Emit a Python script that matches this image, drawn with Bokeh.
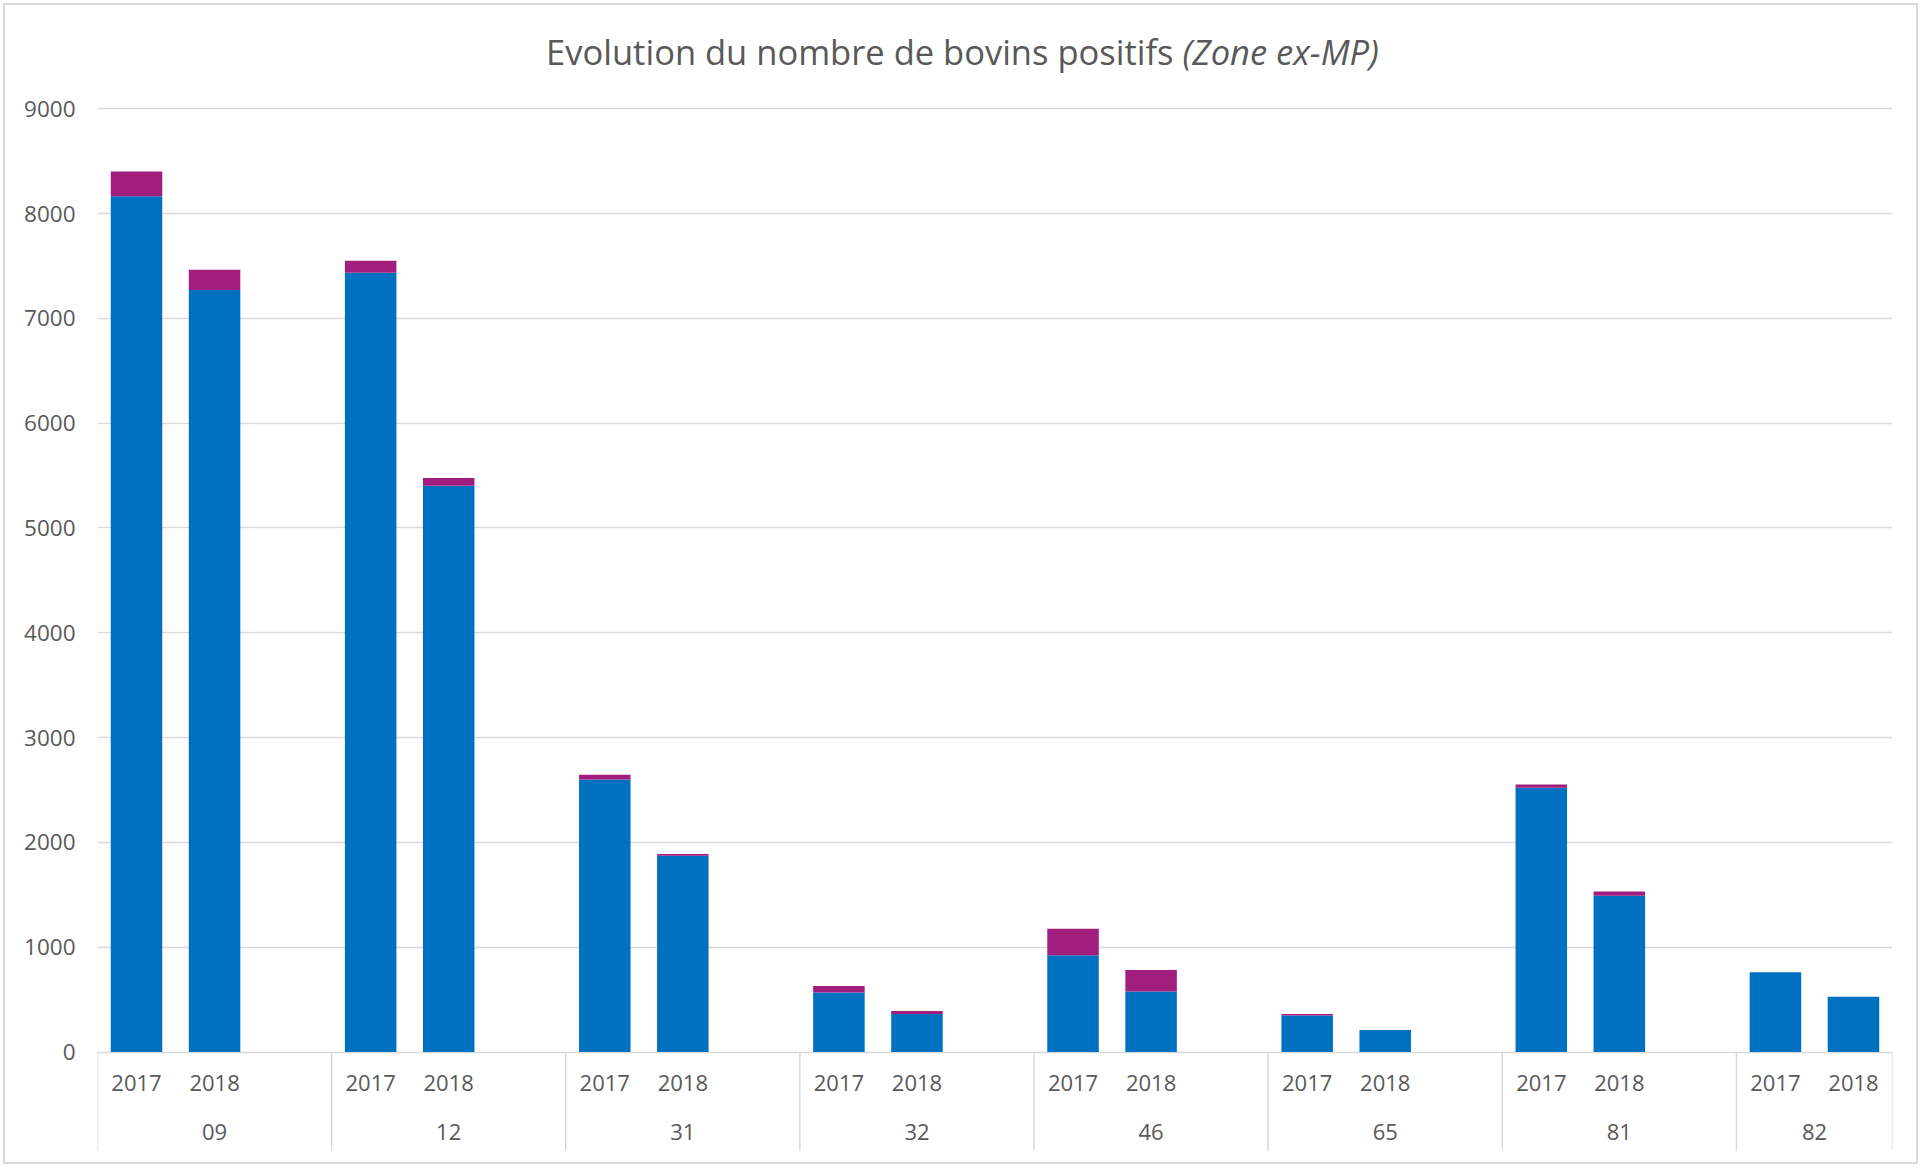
from bokeh.plotting import figure
from bokeh.models import FactorRange, Range1d, FixedTicker, ColumnDataSource
from bokeh.core.properties import value
from bokeh.embed import file_html
from bokeh.resources import INLINE

# ---------------- data ----------------
departements = ["09", "12", "31", "32", "46", "65", "81", "82"]
annees = ["2017", "2018"]
# series 1 (blue) values per departement: [2017, 2018]
serie_1 = {
    "09": [8165, 7270],
    "12": [7435, 5403],
    "31": [2601, 1873],
    "32": [567, 362],
    "46": [922, 578],
    "65": [349, 210],
    "81": [2522, 1491],
    "82": [760, 528],
}
# series 2 (magenta) values per departement: [2017, 2018]
serie_2 = {
    "09": [237, 194],
    "12": [115, 74],
    "31": [45, 16],
    "32": [63, 29],
    "46": [254, 204],
    "65": [13, 0],
    "81": [31, 41],
    "82": [0, 0],
}
y_ticks = [0, 1000, 2000, 3000, 4000, 5000, 6000, 7000, 8000, 9000]
titre = "Evolution du nombre de bovins positifs"
titre_italique = "(Zone ex-MP)"

# ---------------- layout constants ----------------
OFF = 5                      # css margin of the figure (page px)
W, H = 1911, 1157
LEFT, RIGHT = 92, 24
Y0_PAGE = 1051.5            # page y of value 0
PX_PER_UNIT = (1051.5 - 108.2) / 9000.0
TEXT_COLOR = "#595959"
GRID_COLOR = "#d9d9d9"
FONT = "Open Sans"


def y_from_page(py):
    return (Y0_PAGE - py) / PX_PER_UNIT


# factors: each departement gets 2017, 2018 and a blank slot (except last)
factors = []
for i, d in enumerate(departements):
    for a in annees:
        factors.append((d, a))
    if i < len(departements) - 1:
        factors.append((d, " "))

x_range = FactorRange(*factors, factor_padding=0, group_padding=0,
                      subgroup_padding=0, range_padding=0)
n_factors = len(factors)
cat_px = (W - LEFT - RIGHT) / n_factors


def x_from_page(px):
    return (px - OFF - LEFT) / cat_px


y_range = Range1d(start=y_from_page(OFF + H), end=y_from_page(OFF))

p = figure(width=W, height=H, x_range=x_range, y_range=y_range,
           output_backend="svg", toolbar_location=None,
           x_axis_location=None,
           min_border_left=LEFT, min_border_right=RIGHT,
           min_border_top=0, min_border_bottom=0)
p.outline_line_color = None
p.background_fill_color = "white"
p.border_fill_color = "white"
p.styles = {"margin": f"{OFF}px 0 0 {OFF}px",
            "outline": "2px solid #d9d9d9", "outline-offset": "0px"}

# ---------------- bars ----------------
bar_x = [(d, a) for d in departements for a in annees]
s1 = [serie_1[d][j] for d in departements for j in range(len(annees))]
s2 = [serie_2[d][j] for d in departements for j in range(len(annees))]
src = ColumnDataSource(dict(x=bar_x, serie_1=s1, serie_2=s2))
p.vbar_stack(["serie_1", "serie_2"], x="x", width=0.66, source=src,
             color=["#0070C0", "#A21E7E"], line_color=None)

# ---------------- y axis / grid ----------------
ticker = FixedTicker(ticks=y_ticks)
p.yaxis.ticker = ticker
p.yaxis.axis_line_color = None
p.yaxis.major_tick_line_color = None
p.yaxis.minor_tick_line_color = None
p.yaxis.major_label_standoff = 16
p.yaxis.major_label_text_font = FONT
p.yaxis.major_label_text_font_size = "22.5px"
p.yaxis.major_label_text_color = TEXT_COLOR
p.ygrid.ticker = ticker
p.ygrid.grid_line_color = GRID_COLOR
p.ygrid.grid_line_width = 1.5
p.xgrid.grid_line_color = None

# ---------------- category axis (drawn) ----------------
bounds = [0]
for k in range(1, n_factors):
    if factors[k][0] != factors[k - 1][0]:
        bounds.append(k)
bounds.append(n_factors)
p.segment(x0=bounds, x1=bounds, y0=[0] * len(bounds),
          y1=[y_from_page(1150)] * len(bounds),
          line_color=GRID_COLOR, line_width=1.5)

year_src = ColumnDataSource(dict(x=bar_x, t=[a for d in departements for a in annees]))
p.text(x="x", y=y_from_page(1082.5), text="t", source=year_src,
       text_font=value(FONT), text_font_size=value("22px"),
       text_color=TEXT_COLOR, text_align="center", text_baseline="middle")

grp_src = ColumnDataSource(dict(x=departements, t=departements))
p.text(x="x", y=y_from_page(1131.5), text="t", source=grp_src,
       text_font=value(FONT), text_font_size=value("22px"),
       text_color=TEXT_COLOR, text_align="center", text_baseline="middle")

# ---------------- title ----------------
p.text(x=[x_from_page(1173)], y=[y_from_page(51)], text=[titre],
       text_font=value(FONT), text_font_size=value("34.5px"),
       text_color=TEXT_COLOR, text_align="right", text_baseline="middle")
p.text(x=[x_from_page(1182)], y=[y_from_page(51)], text=[titre_italique],
       text_font=value(FONT), text_font_size=value("34.5px"),
       text_font_style="italic",
       text_color=TEXT_COLOR, text_align="left", text_baseline="middle")

open("out.html", "w").write(file_html(p, INLINE))
